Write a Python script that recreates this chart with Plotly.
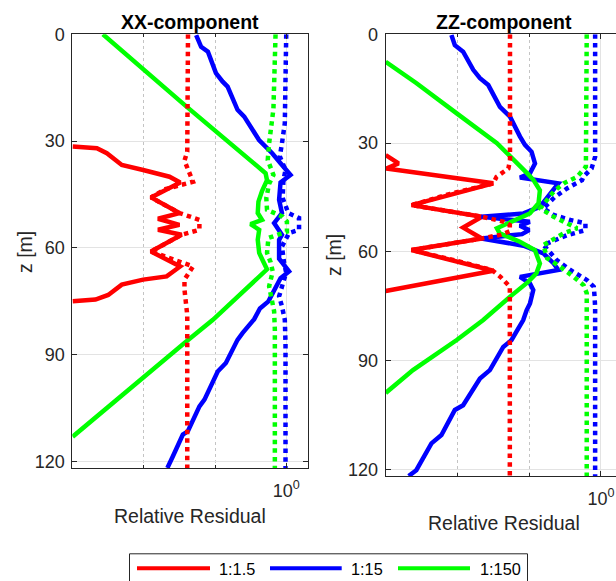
import plotly.graph_objects as go

# ---------------- data (depth z [m], relative residual) ----------------
# XX-component
xx_red_solid_z = [31.5, 32.0, 33.4, 36.7, 38.1, 40.0, 41.6, 45.8, 50.2, 51.8, 53.5, 54.9, 56.3, 61.0, 65.2, 68.0, 68.9, 70.3, 73.2, 74.5, 75.0]
xx_red_solid_r = [0.00100, 0.00219, 0.00302, 0.00490, 0.00977, 0.0229, 0.0324, 0.0126, 0.0316, 0.0158, 0.0316, 0.0158, 0.0339, 0.0126, 0.0324, 0.0209, 0.00977, 0.00490, 0.00316, 0.00209, 0.00100]

xx_red_dot_z = [0, 30.0, 33.0, 35.5, 39.5, 41.4, 43.5, 45.8, 50.2, 52.1, 54.9, 56.3, 61.0, 63.8, 65.2, 68.9, 71.7, 78.8, 121.8]
xx_red_dot_r = [0.0417, 0.0417, 0.0407, 0.0372, 0.0457, 0.0490, 0.0200, 0.0126, 0.0316, 0.0603, 0.0603, 0.0339, 0.0126, 0.0316, 0.0490, 0.0372, 0.0372, 0.0407, 0.0407]

xx_blue_solid_z = [0.2, 3.5, 4.9, 10.9, 13.3, 14.7, 21.2, 23.1, 29.7, 31.5, 33.4, 36.2, 39.5, 41.6, 46.5, 50.2, 53.0, 56.3, 57.7, 63.0, 66.6, 68.5, 75.0, 77.0, 80.0, 83.9, 85.8, 92.3, 94.7, 102.6, 104.5, 111.5, 112.4, 118.5, 121.8]
xx_blue_solid_r = [0.0543, 0.0638, 0.0794, 0.103, 0.128, 0.150, 0.207, 0.257, 0.415, 0.513, 0.635, 0.832, 1.148, 0.832, 0.794, 0.871, 0.676, 0.871, 0.794, 0.794, 1.096, 0.832, 0.562, 0.427, 0.355, 0.243, 0.207, 0.142, 0.109, 0.0710, 0.0604, 0.0415, 0.0353, 0.0256, 0.0214]

xx_blue_dot_z = [0, 25.0, 30.6, 34.3, 38.1, 41.0, 46.0, 50.2, 51.6, 54.9, 55.8, 59.6, 64.2, 67.0, 69.5, 73.6, 76.4, 80.2, 86.7, 121.8]
xx_blue_dot_r = [1.0, 0.955, 0.871, 0.813, 0.977, 0.912, 0.891, 1.072, 1.514, 1.514, 1.096, 0.871, 0.933, 1.0, 0.912, 0.794, 0.871, 0.955, 0.977, 0.977]

xx_green_solid_z = [0, 20.3, 39.0, 41.0, 44.0, 47.0, 50.2, 52.1, 53.3, 54.9, 57.7, 61.4, 63.5, 66.0, 80.2, 86.2, 113.0]
xx_green_solid_r = [0.00266, 0.0398, 0.513, 0.537, 0.457, 0.407, 0.398, 0.457, 0.316, 0.417, 0.398, 0.417, 0.468, 0.537, 0.0933, 0.0398, 0.00100]

xx_green_dot_z = [0, 21.0, 30.6, 35.3, 39.5, 42.0, 46.0, 49.3, 51.2, 52.6, 55.4, 57.2, 61.4, 64.0, 66.6, 70.8, 77.8, 83.0, 121.8]
xx_green_dot_r = [0.708, 0.661, 0.575, 0.550, 0.661, 0.575, 0.525, 0.537, 0.891, 1.023, 1.023, 0.562, 0.537, 0.603, 0.646, 0.575, 0.676, 0.692, 0.692]

# ZZ-component
zz_red_solid_z = [33.3, 35.6, 37.0, 37.9, 41.1, 47.1, 50.3, 53.3, 56.3, 59.5, 65.2, 70.8]
zz_red_solid_r = [0.00100, 0.00151, 0.00102, 0.00219, 0.0316, 0.00229, 0.0219, 0.0120, 0.0219, 0.00229, 0.0316, 0.00100]

zz_red_dot_z = [0, 34.7, 37.0, 39.3, 41.1, 44.0, 47.1, 50.3, 51.7, 52.6, 54.3, 55.3, 56.3, 59.5, 62.5, 65.0, 66.9, 69.6, 74.2, 121.8]
zz_red_dot_r = [0.0540, 0.0540, 0.0513, 0.0351, 0.0316, 0.00794, 0.00229, 0.0219, 0.0447, 0.0537, 0.0537, 0.0398, 0.0219, 0.00229, 0.0100, 0.0302, 0.0398, 0.0537, 0.0537, 0.0537]

zz_blue_solid_z = [0.2, 3.0, 4.8, 9.8, 12.1, 14.0, 20.0, 22.7, 28.2, 30.5, 32.4, 35.6, 38.3, 39.5, 41.1, 43.9, 47.6, 49.4, 50.3, 51.7, 52.8, 54.0, 55.1, 56.3, 57.2, 58.3, 60.4, 63.2, 65.0, 66.9, 68.7, 70.5, 74.2, 76.1, 78.8, 84.3, 86.2, 92.6, 94.9, 102.3, 103.6, 110.5, 112.8, 120.2, 121.8]
zz_blue_solid_r = [0.00824, 0.00920, 0.0120, 0.0166, 0.0206, 0.0269, 0.0391, 0.0540, 0.0745, 0.0873, 0.108, 0.1205, 0.1026, 0.0745, 0.255, 0.195, 0.141, 0.0832, 0.0216, 0.102, 0.0741, 0.100, 0.0794, 0.0216, 0.0437, 0.0832, 0.158, 0.219, 0.255, 0.0745, 0.1026, 0.114, 0.1026, 0.0920, 0.0826, 0.0568, 0.0435, 0.0283, 0.0206, 0.0120, 0.00920, 0.00598, 0.00434, 0.00267, 0.00209]

zz_blue_dot_z = [0, 33.8, 37.0, 39.3, 40.2, 42.5, 45.0, 48.0, 49.8, 51.2, 52.1, 54.0, 55.4, 58.1, 62.3, 65.0, 67.8, 69.6, 72.0, 75.1, 121.8]
zz_blue_dot_r = [0.830, 0.830, 0.741, 0.570, 0.546, 0.337, 0.224, 0.158, 0.219, 0.375, 0.608, 0.608, 0.337, 0.158, 0.244, 0.375, 0.641, 0.794, 0.813, 0.830, 0.830]

zz_green_solid_z = [7.6, 13.5, 21.8, 30.0, 38.5, 40.2, 43.0, 46.6, 49.4, 52.1, 53.5, 54.9, 57.2, 59.5, 63.2, 65.9, 68.2, 72.4, 78.8, 84.3, 88.0, 92.6, 98.9]
zz_green_solid_r = [0.00100, 0.00269, 0.00977, 0.0355, 0.0955, 0.115, 0.141, 0.135, 0.102, 0.0537, 0.0355, 0.0389, 0.0741, 0.120, 0.141, 0.126, 0.0977, 0.0537, 0.0229, 0.00977, 0.00513, 0.00240, 0.00100]

zz_green_dot_z = [0, 34.7, 36.5, 39.3, 41.1, 43.4, 48.0, 50.3, 52.1, 53.5, 54.9, 58.1, 61.8, 64.1, 66.9, 69.2, 71.4, 121.8]
zz_green_dot_r = [0.634, 0.634, 0.617, 0.466, 0.302, 0.219, 0.143, 0.219, 0.337, 0.466, 0.302, 0.158, 0.178, 0.272, 0.417, 0.575, 0.634, 0.634]

series_names = ["1:1.5", "1:15", "1:150"]
series_colors = ["#ff0000", "#0000ff", "#00ff00"]
panel_titles = ["XX-component", "ZZ-component"]
y_ticks = [0, 30, 60, 90, 120]
x_major_ticks = [1]
x_major_labels = ["10<sup>0</sup>"]
x_minor_ticks = [0.01, 0.1]

# ---------------- figure ----------------
W, H = 616, 581
FONT = "Liberation Sans, Arial, Helvetica, sans-serif"
AX = "#262626"

def px(x):
    return x / W

def py(y):
    return 1 - y / H

fig = go.Figure()

panels = [
    ("x", "y", [(xx_red_solid_r, xx_red_solid_z), (xx_blue_solid_r, xx_blue_solid_z), (xx_green_solid_r, xx_green_solid_z)],
     [(xx_red_dot_r, xx_red_dot_z), (xx_blue_dot_r, xx_blue_dot_z), (xx_green_dot_r, xx_green_dot_z)]),
    ("x2", "y2", [(zz_red_solid_r, zz_red_solid_z), (zz_blue_solid_r, zz_blue_solid_z), (zz_green_solid_r, zz_green_solid_z)],
     [(zz_red_dot_r, zz_red_dot_z), (zz_blue_dot_r, zz_blue_dot_z), (zz_green_dot_r, zz_green_dot_z)]),
]

LW = 4.5
for xa, ya, solids, dots in panels:
    for i, (r, z) in enumerate(solids):
        fig.add_trace(go.Scatter(x=r, y=z, mode="lines", xaxis=xa, yaxis=ya,
                                 line=dict(color=series_colors[i], width=LW),
                                 name=series_names[i], showlegend=False, hoverinfo="skip"))
    for i, (r, z) in enumerate(dots):
        fig.add_trace(go.Scatter(x=r, y=z, mode="lines", xaxis=xa, yaxis=ya,
                                 line=dict(color=series_colors[i], width=LW, dash="4.5px,4.2px"),
                                 name=series_names[i], showlegend=False, hoverinfo="skip"))

def xaxis_cfg(domain, rng, anchor):
    return dict(domain=domain, type="log", range=rng, anchor=anchor,
                tickmode="array", tickvals=x_major_ticks, ticktext=x_major_labels,
                ticks="inside", ticklen=5, tickcolor=AX, tickwidth=1,
                showline=True, linecolor=AX, linewidth=1, mirror="ticks",
                showgrid=True, gridcolor="#e3e3e3", gridwidth=1, zeroline=False,
                tickfont=dict(family=FONT, size=18, color=AX), ticklabelstandoff=6,
                minor=dict(tickmode="array", tickvals=x_minor_ticks, ticks="inside", ticklen=3,
                           tickcolor=AX, showgrid=True, gridcolor="#c4c4c4", griddash="dot", gridwidth=1))

def yaxis_cfg(domain, anchor, mirror):
    return dict(domain=domain, range=[121.8, 0], anchor=anchor,
                tickmode="array", tickvals=y_ticks,
                ticks="inside", ticklen=5, tickcolor=AX, tickwidth=1,
                showline=True, linecolor=AX, linewidth=1, mirror=mirror,
                showgrid=True, gridcolor="#e3e3e3", gridwidth=1, zeroline=False,
                tickfont=dict(family=FONT, size=18, color=AX), ticklabelstandoff=3)

fig.update_layout(
    width=W, height=H,
    margin=dict(l=0, r=0, t=0, b=0, autoexpand=False),
    paper_bgcolor="white", plot_bgcolor="white",
    showlegend=False,
    xaxis=xaxis_cfg([px(72.3), px(308.3)], [-3.005, 0.31], "y"),
    yaxis=yaxis_cfg([py(468), py(34.3)], "x", "ticks"),
    xaxis2=xaxis_cfg([px(385.7), 1.0], [-3.0, 0.21], "y2"),
    yaxis2=yaxis_cfg([py(476), py(34.3)], "x2", False),
)

ann = []
# titles
for t, cx in zip(panel_titles, [190, 504]):
    ann.append(dict(text="<b>%s</b>" % t, x=px(cx), y=py(21.5), xref="paper", yref="paper",
                    showarrow=False, xanchor="center", yanchor="middle",
                    font=dict(family=FONT, size=19.5, color="black")))
# axis labels
for cx, cy in [(190, 515.5), (504, 522.5)]:
    ann.append(dict(text="Relative Residual", x=px(cx), y=py(cy), xref="paper", yref="paper",
                    showarrow=False, xanchor="center", yanchor="middle",
                    font=dict(family=FONT, size=19.5, color=AX)))
for cx, cy in [(25, 252), (334, 255)]:
    ann.append(dict(text="z [m]", x=px(cx), y=py(cy), xref="paper", yref="paper",
                    showarrow=False, xanchor="center", yanchor="middle", textangle=-90,
                    font=dict(family=FONT, size=19.5, color=AX)))

# legend (manual, MATLAB-style long line samples)
shapes = [dict(type="rect", xref="paper", yref="paper", x0=px(129.5), x1=px(527.5), y0=py(600), y1=py(553.8),
               line=dict(color=AX, width=1), fillcolor="white", layer="above")]
leg_lines = [(137, 210), (270, 341.7), (398, 470)]
leg_text_x = [217, 349, 478]
for i in range(3):
    shapes.append(dict(type="line", xref="paper", yref="paper", x0=px(leg_lines[i][0]), x1=px(leg_lines[i][1]),
                       y0=py(568.3), y1=py(568.3), line=dict(color=series_colors[i], width=4), layer="above"))
    ann.append(dict(text=series_names[i], x=px(leg_text_x[i]), y=py(568.5), xref="paper", yref="paper",
                    showarrow=False, xanchor="left", yanchor="middle",
                    font=dict(family=FONT, size=16.3, color="black")))

fig.update_layout(annotations=ann, shapes=shapes)
fig.write_html("out.html", config={"displayModeBar": False, "staticPlot": True},
               post_script="document.body.style.margin='0';document.body.style.padding='0';document.body.style.overflow='hidden';")
